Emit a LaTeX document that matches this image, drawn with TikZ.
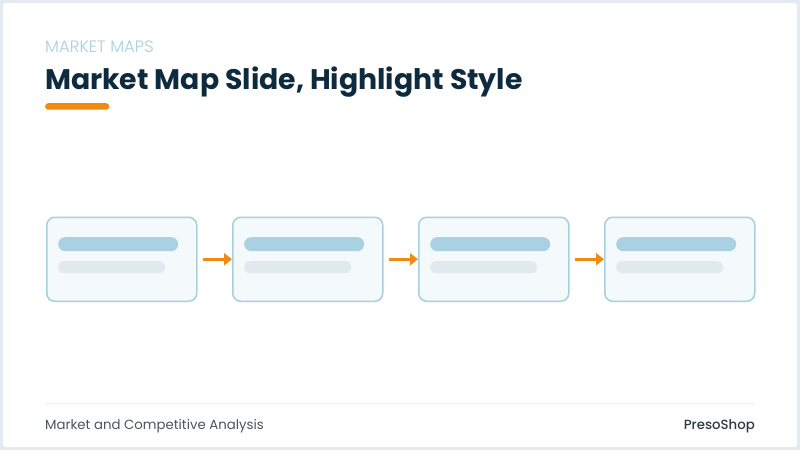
\documentclass[tikz,border=0pt]{standalone}
\usepackage{fontspec}
\setmainfont{Poppins}
\newfontfamily\lightfont{Poppins Light}
\newfontfamily\mediumfont{Poppins Medium}
\usepackage{tikz}
\usetikzlibrary{positioning,arrows.meta}

\definecolor{frameGray}{HTML}{E4EAF0}
\definecolor{titleNavy}{HTML}{0E2A3F}
\definecolor{kickerBlue}{HTML}{A8CFE0}
\definecolor{accentOrange}{HTML}{F28A12}
\definecolor{boxLine}{HTML}{A6D0E0}
\definecolor{boxFill}{HTML}{F4F9FB}
\definecolor{barBlue}{HTML}{A9D1E2}
\definecolor{barGray}{HTML}{E1E8EE}
\definecolor{footerGray}{HTML}{4B5560}
\definecolor{brandGray}{HTML}{2F3A45}
\definecolor{ruleGray}{HTML}{E8EDF1}

\begin{document}
\begin{tikzpicture}[
        stage/.style={
            rectangle, rounded corners = 8pt, draw = boxLine, line width = 1.5pt,
            fill = boxFill, minimum width = 150pt, minimum height = 84pt, inner sep = 0pt
        },
        barTop/.style={
            rectangle, rounded corners = 7pt, fill = barBlue,
            minimum width = 120pt, minimum height = 14pt, inner sep = 0pt
        },
        barSub/.style={
            rectangle, rounded corners = 6pt, fill = barGray,
            minimum width = 107pt, minimum height = 12pt, inner sep = 0pt
        },
        flow/.style={
            -{Triangle[length=8pt,width=12pt]}, line width = 3pt,
            draw = accentOrange, shorten <= 5pt
        },
        textline/.style={inner sep = 0pt},
    ]
    % slide frame
    \useasboundingbox (0pt,0pt) rectangle (800pt,-450pt);
    \fill[frameGray] (0pt,0pt) rectangle (800pt,-450pt);
    \fill[white, rounded corners = 3pt] (3pt,-3pt) rectangle (797pt,-447pt);

    % heading
    \node (kicker) [textline, anchor = base west, text = kickerBlue, font = \lightfont\fontsize{16.5}{19}\selectfont] at (45pt,-52pt) {MARKET MAPS};
    \node (title) [textline, anchor = base west, text = titleNavy, font = \bfseries\fontsize{28.3}{32}\selectfont] at (45pt,-89.5pt) {Market Map Slide, Highlight Style};
    \node (accent) [rectangle, rounded corners = 3pt, fill = accentOrange, minimum width = 64pt, minimum height = 6.5pt, inner sep = 0pt, anchor = north west] at (45pt,-103pt) {};

    % stages
    \node (stageA) [stage, anchor = north west] at (46pt,-216.5pt) {};
    \node (stageA1) [barTop, below right = 20.5pt and 12pt of stageA.north west] {};
    \node (stageA2) [barSub, below right = 44.5pt and 12pt of stageA.north west] {};

    \node (stageB) [stage, right = 34.5pt of stageA] {};
    \node (stageB1) [barTop, below right = 20.5pt and 12pt of stageB.north west] {};
    \node (stageB2) [barSub, below right = 44.5pt and 12pt of stageB.north west] {};
    \path (stageA) edge[flow] (stageB);

    \node (stageC) [stage, right = 34.5pt of stageB] {};
    \node (stageC1) [barTop, below right = 20.5pt and 12pt of stageC.north west] {};
    \node (stageC2) [barSub, below right = 44.5pt and 12pt of stageC.north west] {};
    \path (stageB) edge[flow] (stageC);

    \node (stageD) [stage, right = 34.5pt of stageC] {};
    \node (stageD1) [barTop, below right = 20.5pt and 12pt of stageD.north west] {};
    \node (stageD2) [barSub, below right = 44.5pt and 12pt of stageD.north west] {};
    \path (stageC) edge[flow] (stageD);

    % footer
    \draw[ruleGray, line width = 1.8pt] (45pt,-403.5pt) -- (755pt,-403.5pt);
    \node (footerLeft) [textline, anchor = base west, text = footerGray, font = \fontsize{13.3}{16}\selectfont] at (45pt,-429pt) {Market and Competitive Analysis};
    \node (footerRight) [textline, anchor = base east, text = brandGray, font = \mediumfont\fontsize{13.3}{16}\selectfont] at (755pt,-429pt) {PresoShop};
\end{tikzpicture}
\end{document}
